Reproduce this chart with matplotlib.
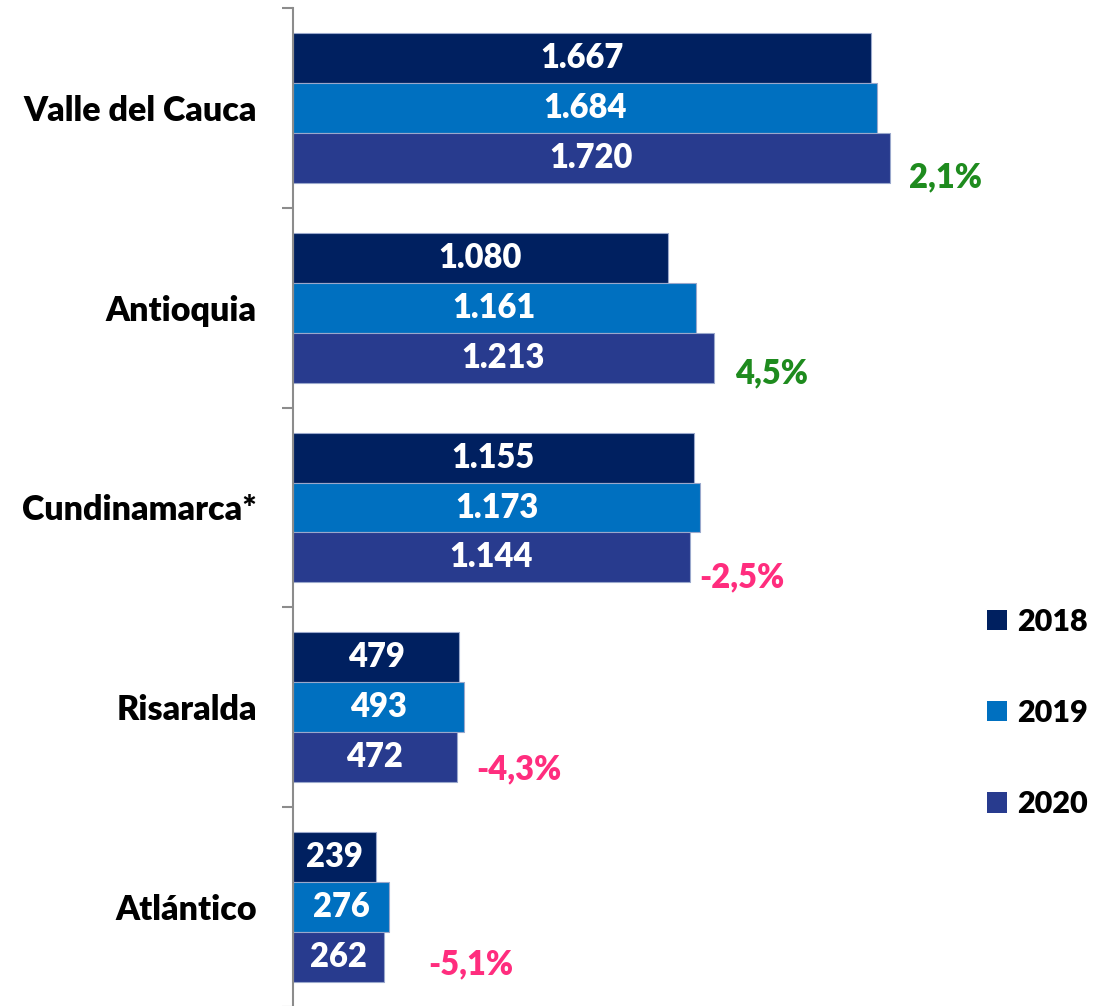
import matplotlib
matplotlib.use("Agg")
import matplotlib.pyplot as plt
from matplotlib.patches import Patch
import numpy as np

categories = ["Valle del Cauca", "Antioquia", "Cundinamarca*", "Risaralda", "Atlántico"]
years = ["2018", "2019", "2020"]
v2018 = [1667, 1080, 1155, 479, 239]
v2019 = [1684, 1161, 1173, 493, 276]
v2020 = [1720, 1213, 1144, 472, 262]
growth = ["2,1%", "4,5%", "-2,5%", "-4,3%", "-5,1%"]

# layout / style (not data)
growth_dx = [14, 15, 7, 14, 32]   # points to right of 2020 bar end
growth_dy = [-14, -11, -14, -9, -5]
colors = ["#002060", "#0070C0", "#283B8E"]
pos_col, neg_col = "#1E8B1E", "#FF2D7E"
W = 800

plt.rcParams['font.family'] = ['Lato', 'DejaVu Sans']

fig = plt.figure(figsize=(10.97, 10.06), dpi=100)
ax = fig.add_axes([293/1097, -1/1006, 804/1097, 999/1006])

n = len(categories)
series = [v2018, v2019, v2020]
bh = 0.25
centers = np.arange(n)
for j, (vals, c) in enumerate(zip(series, colors)):
    ys = centers + (j - 1) * bh
    bars = ax.barh(ys, vals, height=bh, color=c, edgecolor="#9AA8CC", linewidth=0.8)
    for b, v in zip(bars, vals):
        txt = f"{v:,}".replace(",", ".")
        ax.text(b.get_width() / 2, b.get_y() + b.get_height() / 2, txt,
                ha="center", va="center", color="white", fontsize=23.5, fontweight=W)

for i, g in enumerate(growth):
    col = neg_col if g.startswith("-") else pos_col
    ax.annotate(g, xy=(v2020[i], centers[i] + bh), xytext=(growth_dx[i], growth_dy[i]),
                textcoords="offset points", ha="left", va="center",
                color=col, fontsize=23.5, fontweight=W)

ax.set_ylim(n - 0.5, -0.5)
ax.set_xlim(0, 2317)
ax.set_yticks(centers)
ax.set_yticklabels(categories, fontsize=24.5, fontweight=W)
ax.tick_params(axis="y", length=0, pad=26)
ax.set_yticks(np.arange(n + 1) - 0.5, minor=True)
ax.tick_params(axis="y", which="minor", length=8, width=1.5, color="#8C8C8C")
ax.set_xticks([])
for s in ["top", "right", "bottom"]:
    ax.spines[s].set_visible(False)
ax.spines["left"].set_color("#8C8C8C")
ax.spines["left"].set_linewidth(1.5)

handles = [Patch(facecolor=c, edgecolor="none") for c in colors]
fig.legend(handles, years, loc="center left", bbox_to_anchor=(987/1097, 1 - 713/1006),
           frameon=False, prop={"weight": W, "size": 22}, borderpad=0, borderaxespad=0,
           handlelength=0.65, handleheight=0.65, handletextpad=0.33, labelspacing=2.07)

fig.savefig("out.png", dpi=100)
